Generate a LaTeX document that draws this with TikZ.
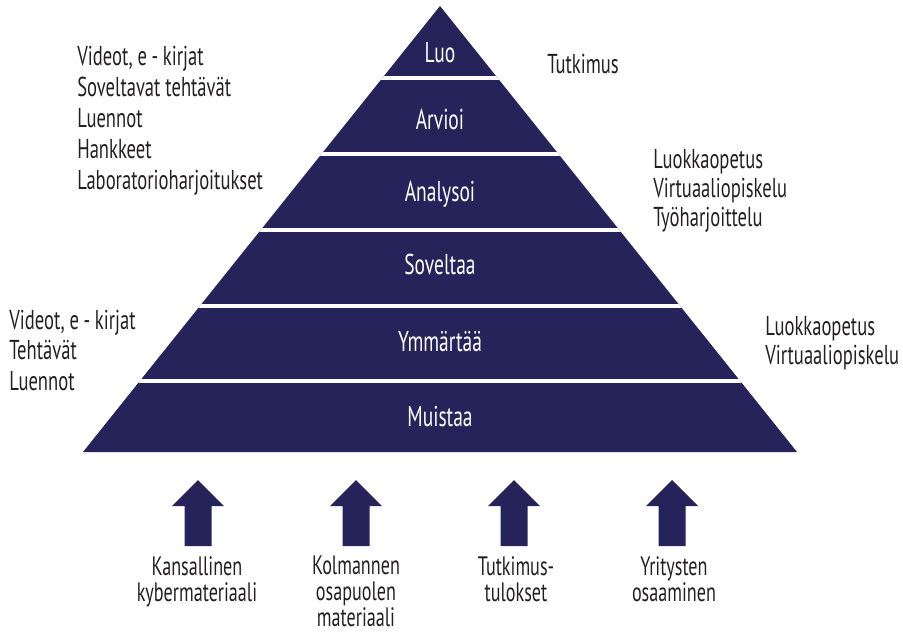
\documentclass[tikz,border=0pt]{standalone}
\usepackage{fontspec}
\setmainfont[FakeStretch=0.68]{PT Sans}
\definecolor{navy}{HTML}{26235A}
\definecolor{ink}{HTML}{231F20}
\begin{document}
\begin{tikzpicture}[x=0.75pt,y=-0.75pt,
  txt/.style={inner sep=0pt,text=ink,font=\fontsize{20.5}{22}\selectfont},
  side/.style={txt,anchor=base west},
  bottom/.style={inner sep=0pt,text=ink,anchor=base,align=center,
     font=\fontsize{20}{19.5}\selectfont},
  lvl/.style={inner sep=0pt,text=white,anchor=base,font=\fontsize{21.5}{22}\selectfont},
  sep/.style={white,line width=3pt},
  uparrow/.style={fill=navy}]
\useasboundingbox (0,0) rectangle (903,632);
% pyramid
\coordinate (apex) at (440,6);
\coordinate (bl) at (83,452);
\coordinate (br) at (797,452);
\fill[navy] (apex) -- (bl) -- (br) -- cycle;
\begin{scope}
\clip (apex) -- (bl) -- (br) -- cycle;
\foreach \yy in {77.5,154,229.5,306,381}{
  \draw[sep] (0,\yy) -- (903,\yy);
}
\end{scope}
% level labels
\node[lvl] (luo) at (440,62) {Luo};
\node[lvl] (arvioi) at (440,129) {Arvioi};
\node[lvl] (analysoi) at (440,201) {Analysoi};
\node[lvl] (soveltaa) at (440,274) {Soveltaa};
\node[lvl] (ymmartaa) at (440,351) {Ymmärtää};
\node[lvl] (muistaa) at (440,426) {Muistaa};
% top left list
\node[side] (tl1) at (77,65) {Videot, e\,-\,kirjat};
\node[side] (tl2) at (77,96) {Soveltavat tehtävät};
\node[side] (tl3) at (77,127) {Luennot};
\node[side] (tl4) at (77,158) {Hankkeet};
\node[side] (tl5) at (77,189) {Laboratorioharjoitukset};
% bottom left list
\node[side] (bl1) at (9,329) {Videot, e\,-\,kirjat};
\node[side] (bl2) at (9,359.5) {Tehtävät};
\node[side] (bl3) at (9,390) {Luennot};
% right lists
\node[side] (tr1) at (547,73) {Tutkimus};
\node[side] (mr1) at (653,168) {Luokkaopetus};
\node[side] (mr2) at (653,197) {Virtuaaliopiskelu};
\node[side] (mr3) at (653,226) {Työharjoittelu};
\node[side] (lr1) at (765,335) {Luokkaopetus};
\node[side] (lr2) at (765,364) {Virtuaaliopiskelu};
% arrows
\foreach \ax/\nm in {198/a1,356/a2,514/a3,672/a4}{
  \coordinate (\nm) at (\ax,480);
  \fill[uparrow] (\nm) -- ++(26,26) -- ++(-12.5,0) -- ++(0,40) -- ++(-27,0)
     -- ++(0,-40) -- ++(-12.5,0) -- cycle;
}
% bottom labels (anchor base = last line)
\node[bottom] (b1) at (197,601) {Kansallinen\\kybermateriaali};
\node[bottom] (b2) at (356,626) {Kolmannen\\osapuolen\\materiaali};
\node[bottom] (b3) at (516,601) {Tutkimus-\\tulokset};
\node[bottom] (b4) at (674,601) {Yritysten\\osaaminen};
\end{tikzpicture}
\end{document}
